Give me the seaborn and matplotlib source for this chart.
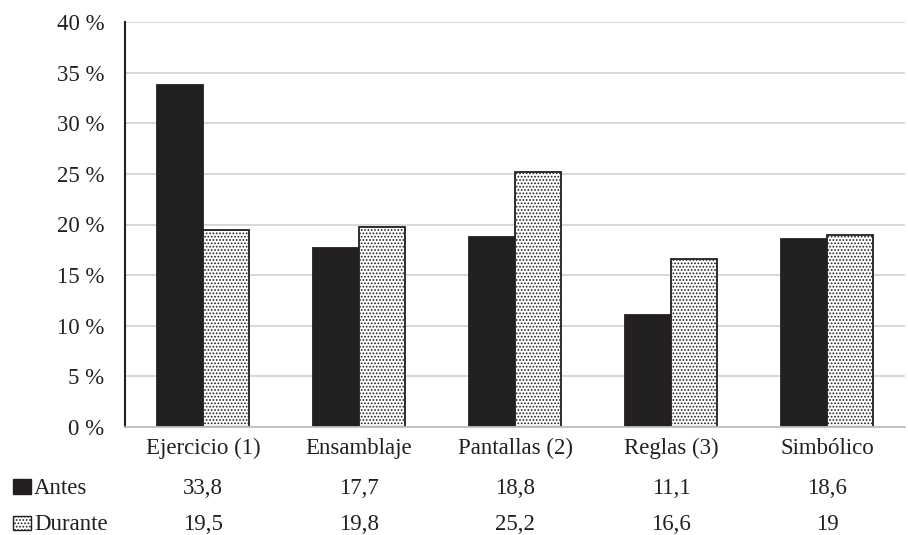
import matplotlib
matplotlib.use("Agg")
import matplotlib.pyplot as plt
import matplotlib.transforms as mtransforms
from matplotlib.patches import Rectangle
import seaborn as sns
import pandas as pd

categories = ["Ejercicio (1)", "Ensamblaje", "Pantallas (2)", "Reglas (3)", "Simbólico"]
antes = [33.8, 17.7, 18.8, 11.1, 18.6]
durante = [19.5, 19.8, 25.2, 16.6, 19]
antes_labels = ["33,8", "17,7", "18,8", "11,1", "18,6"]
durante_labels = ["19,5", "19,8", "25,2", "16,6", "19"]
series = ["Antes", "Durante"]
yticks = [0, 5, 10, 15, 20, 25, 30, 35, 40]
ytick_labels = [f"{v} %" for v in yticks]

sns.set_theme(style="white")
plt.rcParams['font.family'] = ['Liberation Serif', 'DejaVu Serif']
plt.rcParams['hatch.linewidth'] = 0.8
plt.rcParams['hatch.color'] = '#231f20'

df = pd.DataFrame({
    "Categoria": categories * 2,
    "Serie": [series[0]] * len(categories) + [series[1]] * len(categories),
    "Valor": antes + durante,
})

FS = 16.5
fig = plt.figure(figsize=(9.08, 5.35), dpi=100)
ax = fig.add_axes([125/908, 1-427/535, 780/908, 405/535])

sns.barplot(data=df, x="Categoria", y="Valor", hue="Serie", order=categories,
            hue_order=series, palette={"Antes": "#231f20", "Durante": "white"},
            edgecolor="#231f20", linewidth=1.3, width=0.59, gap=0, ax=ax,
            legend=False, errorbar=None)

n = len(categories)
for i, p in enumerate(ax.patches):
    if i >= n:
        p.set_hatch(".....")

ax.set_ylim(0, 40)
ax.set_xlim(-0.5, n - 0.5)
ax.set_yticks(yticks)
ax.set_yticklabels(ytick_labels, fontsize=FS, color="#231f20")
ax.tick_params(axis='x', labelsize=FS, colors="#231f20", length=0, pad=8)
ax.tick_params(axis='y', length=0, pad=15)
ax.set_xlabel("")
ax.set_ylabel("")
ax.yaxis.grid(True, color="#d4d4d4", linewidth=1.3)
ax.set_axisbelow(True)
for s in ["top", "right"]:
    ax.spines[s].set_visible(False)
ax.spines["left"].set_color("#231f20")
ax.spines["left"].set_linewidth(1.5)
ax.spines["bottom"].set_color("#bfbfbf")
ax.spines["bottom"].set_linewidth(1.3)

trans = mtransforms.blended_transform_factory(ax.transData, fig.transFigure)
row_y = [1 - 494/535, 1 - 530/535]
for i in range(n):
    ax.text(i, row_y[0], antes_labels[i], transform=trans, ha="center", va="baseline",
            fontsize=FS, color="#231f20")
    ax.text(i, row_y[1], durante_labels[i], transform=trans, ha="center", va="baseline",
            fontsize=FS, color="#231f20")

fig.text(34/908, row_y[0], series[0], ha="left", va="baseline", fontsize=FS, color="#231f20")
fig.text(34/908, row_y[1], series[1], ha="left", va="baseline", fontsize=FS, color="#231f20")
fig.patches.append(Rectangle((13/908, 1 - 494/535), 18/908, 15/535,
                             transform=fig.transFigure, facecolor="#231f20",
                             edgecolor="#231f20", linewidth=1))
fig.patches.append(Rectangle((13/908, 1 - 530/535), 18/908, 14/535,
                             transform=fig.transFigure, facecolor="white",
                             edgecolor="#231f20", linewidth=1, hatch="....."))

fig.savefig("out.png", dpi=100)
